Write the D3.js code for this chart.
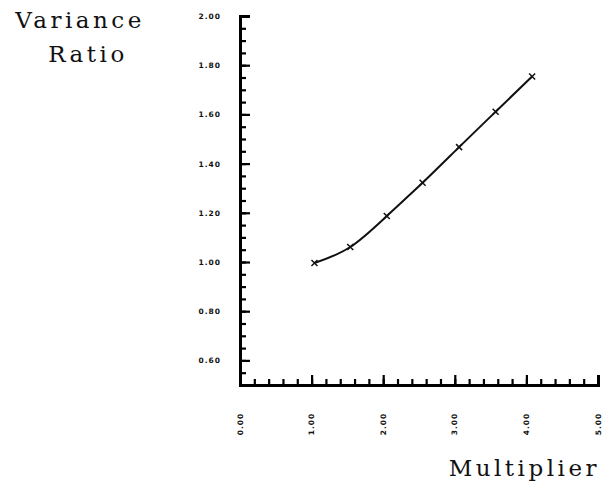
<!DOCTYPE html>
<html>
<head>
<meta charset="utf-8">
<script src="https://cdn.jsdelivr.net/npm/d3@7"></script>
<style>
  body { margin: 0; background: #fff; }
  .title { font-family: 'DejaVu Serif', serif; font-size: 23px; letter-spacing: 3.5px; fill: #111; }
  .tick-label text { font-family: 'DejaVu Sans', sans-serif; font-size: 7.5px; font-weight: bold; letter-spacing: 1px; fill: #111; }
</style>
</head>
<body>
<div id="chart"></div>
<script>
// data
const multiplier = [1.04, 1.54, 2.05, 2.55, 3.06, 3.57, 4.08]
const varianceRatio = [0.996, 1.061, 1.187, 1.322, 1.467, 1.611, 1.754]
const xMajor = [0, 1, 2, 3, 4, 5]
const yMajor = [0.6, 0.8, 1.0, 1.2, 1.4, 1.6, 1.8, 2.0]

const width = 604
const height = 495

const svg = d3.select('#chart')
  .append('svg')
  .attr('width', width)
  .attr('height', height)

const xScale = d3.scaleLinear().domain([0, 5]).range([240, 598])
const yScale = d3.scaleLinear().domain([0.5, 2.0]).range([385, 16])

const xMinor = d3.range(0, 5.001, 0.2)
const yMinor = d3.range(0.5, 2.001, 0.05)

// y axis, ticks pointing right
const yAxisG = svg.append('g').attr('transform', 'translate(' + xScale(0) + ',0)')
yAxisG.append('g')
  .call(d3.axisRight(yScale).tickValues(yMinor).tickSize(6).tickFormat(''))
yAxisG.append('g')
  .call(d3.axisRight(yScale).tickValues(yMajor).tickSize(10).tickFormat(''))
yAxisG.selectAll('path.domain').attr('stroke-width', 3)
yAxisG.selectAll('.tick line').attr('stroke-width', 2.2)

// x axis, ticks pointing up
const xAxisG = svg.append('g').attr('transform', 'translate(0,' + yScale(0.5) + ')')
xAxisG.append('g')
  .call(d3.axisTop(xScale).tickValues(xMinor).tickSize(6).tickFormat(''))
xAxisG.append('g')
  .call(d3.axisTop(xScale).tickValues(xMajor).tickSize(10).tickFormat(''))
xAxisG.selectAll('path.domain').attr('stroke-width', 3)
xAxisG.selectAll('.tick line').attr('stroke-width', 2.2)

// y labels
svg.append('g')
  .attr('class', 'tick-label')
  .attr('transform', 'translate(' + xScale(0) + ',0)')
  .call(d3.axisLeft(yScale).tickValues(yMajor).tickSize(0).tickPadding(19).tickFormat(d3.format('.2f')))
  .call(g => g.select('.domain').remove())

// x labels, rotated
svg.append('g')
  .attr('class', 'tick-label')
  .selectAll('text')
  .data(xMajor)
  .enter()
  .append('text')
  .attr('transform', d => 'translate(' + (xScale(d) + 2.5) + ',424) rotate(-90)')
  .attr('text-anchor', 'middle')
  .text(d3.format('.2f'))

// curve
const pts = multiplier.map((m, i) => [m, varianceRatio[i]])
const line = d3.line()
  .x(d => xScale(d[0]))
  .y(d => yScale(d[1]))
  .curve(d3.curveNatural)

svg.append('path')
  .datum(pts)
  .attr('d', line)
  .attr('fill', 'none')
  .attr('stroke', '#111')
  .attr('stroke-width', 2)

// x markers
svg.selectAll('.mark')
  .data(pts)
  .enter()
  .append('path')
  .attr('class', 'mark')
  .attr('d', d => {
    const cx = xScale(d[0])
    const cy = yScale(d[1])
    const s = 3
    return 'M' + (cx - s) + ',' + (cy - s) + 'L' + (cx + s) + ',' + (cy + s) +
      'M' + (cx - s) + ',' + (cy + s) + 'L' + (cx + s) + ',' + (cy - s)
  })
  .attr('stroke', '#111')
  .attr('stroke-width', 1.5)

// titles
svg.append('text').attr('class', 'title')
  .attr('x', 80).attr('y', 28).attr('text-anchor', 'middle')
  .text('Variance')
svg.append('text').attr('class', 'title')
  .attr('x', 88).attr('y', 62).attr('text-anchor', 'middle')
  .text('Ratio')
svg.append('text').attr('class', 'title')
  .attr('x', 600).attr('y', 476).attr('text-anchor', 'end')
  .text('Multiplier')
</script>
</body>
</html>
